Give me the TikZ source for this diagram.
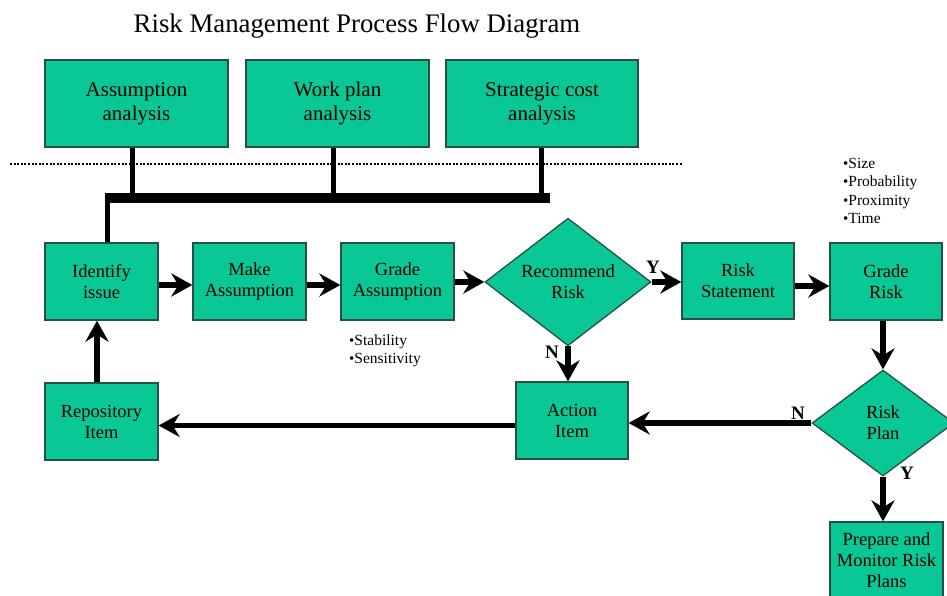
\documentclass[tikz,border=0pt]{standalone}
\usepackage{fontspec}
\setmainfont{Liberation Serif}
\usetikzlibrary{arrows.meta,shapes.geometric,calc}
\definecolor{boxfill}{RGB}{10,200,150}
\definecolor{boxline}{RGB}{40,80,68}
\begin{document}
\begin{tikzpicture}[x=1pt,y=-1pt,
  box/.style={rectangle,draw=boxline,line width=1.3pt,fill=boxfill,align=center,inner sep=2pt,
    font=\fontsize{18.5}{21}\selectfont},
  topbox/.style={box,minimum height=87pt,font=\fontsize{21}{24}\selectfont},
  dia/.style={diamond,draw=boxline,line width=1.3pt,fill=boxfill,align=center,inner sep=0pt,
    font=\fontsize{18.5}{21}\selectfont},
  arr/.style={line width=5.5pt,-{Stealth[length=21pt,width=23pt,inset=7pt]}},
  conn/.style={line width=5pt},
  yn/.style={font=\bfseries\fontsize{19}{21}\selectfont,inner sep=0pt},
  bul/.style={align=left,inner sep=0pt,anchor=west,font=\fontsize{15.5}{18.5}\selectfont}]
\useasboundingbox (0,0) rectangle (947,596);
\clip (0,0) rectangle (947,596);
\fill[white] (0,0) rectangle (947,596);

% title
\node[font=\fontsize{26.8}{30}\selectfont] (title) at (357,26) {Risk Management Process Flow Diagram};

% top boxes
\node[topbox,minimum width=183pt] (A) at (136.5,103.5) {Assumption\\analysis};
\node[topbox,minimum width=183pt] (W) at (337.5,103.5) {Work plan\\analysis};
\node[topbox,minimum width=192pt] (S) at (542,103.5) {Strategic cost\\analysis};

% dotted line
\draw[line width=2.5pt,dash pattern=on 2pt off 1.6pt] (10,164) -- (682,164);

% bar
\coordinate (barL) at (107,198);
\coordinate (barR) at (550,198);
\draw[line width=10pt] (barL) -- (barR);

% main row
\node[box,minimum width=113pt,minimum height=77pt] (I) at (101.5,281.5) {Identify\\issue};
\node[box,minimum width=113pt,minimum height=77pt] (M) at (249.5,281.5) {Make\\Assumption};
\node[box,minimum width=113pt,minimum height=77pt] (G) at (397.5,281.5) {Grade\\Assumption};
\node[dia,minimum width=166pt,minimum height=124pt] (R) at (568,282) {Recommend\\Risk};
\node[box,minimum width=112pt,minimum height=76pt] (RS) at (738,281) {Risk\\Statement};
\node[box,minimum width=112pt,minimum height=77pt] (GR) at (886,281.5) {Grade\\Risk};

% lower row
\node[box,minimum width=113pt,minimum height=77pt] (RI) at (101.5,421.5) {Repository\\Item};
\node[box,minimum width=112pt,minimum height=77pt] (AI) at (572,420.5) {Action\\Item};
\node[dia,minimum width=142pt,minimum height=106pt] (RP) at (883,423) {Risk\\Plan};
\node[box,minimum width=113pt,minimum height=76pt] (P) at (886.5,560) {Prepare and\\Monitor Risk\\Plans};

% connectors from top boxes to bar
\draw[conn] ([xshift=-4.5pt]A.south) -- ([xshift=-4.5pt]A.south |- barL);
\draw[conn] ([xshift=-4.5pt]W.south) -- ([xshift=-4.5pt]W.south |- barL);
\draw[conn] ([xshift=-1pt]S.south) -- ([xshift=-1pt]S.south |- barL);
\draw[conn] ([yshift=5pt]barL) -- (barL |- I.north);

% arrows
\draw[arr] ([yshift=-3.5pt]I.east) -- ([yshift=-3.5pt]I.east -| M.west);
\draw[arr] ([yshift=-3.5pt]M.east) -- ([yshift=-3.5pt]M.east -| G.west);
\draw[arr] (G.east |- R.west) -- (R.west);
\draw[arr] (R.east) -- (R.east -| RS.west);
\draw[arr] ([yshift=-5pt]RS.east) -- ([yshift=-5pt]RS.east -| GR.west);
\draw[arr] ([xshift=-3pt]GR.south) -- ([xshift=-3pt]GR.south |- RP.north);
\draw[arr] (R.south) -- (R.south |- AI.north);
\draw[arr] (RP.west) -- (RP.west -| AI.east);
\draw[arr] ([yshift=-5pt]AI.west) -- ([yshift=-5pt]AI.west -| RI.east);
\draw[arr] ([xshift=-4.5pt]RI.north) -- ([xshift=-4.5pt]RI.north |- I.south);
\draw[arr] (RP.south) -- (RP.south |- P.north);

% Y/N labels
\node[yn] (y1) at (653,267) {Y};
\node[yn] (n1) at (552,352) {N};
\node[yn] (n2) at (798,413) {N};
\node[yn] (y2) at (907,473) {Y};

% bullet lists
\node[bul] (b1) at (349,351) {{\fontsize{15}{15}\selectfont •}Stability\\{\fontsize{15}{15}\selectfont •}Sensitivity};
\node[bul] (b2) at (843,191) {{\fontsize{15}{15}\selectfont •}Size\\{\fontsize{15}{15}\selectfont •}Probability\\{\fontsize{15}{15}\selectfont •}Proximity\\{\fontsize{15}{15}\selectfont •}Time};
\end{tikzpicture}
\end{document}
